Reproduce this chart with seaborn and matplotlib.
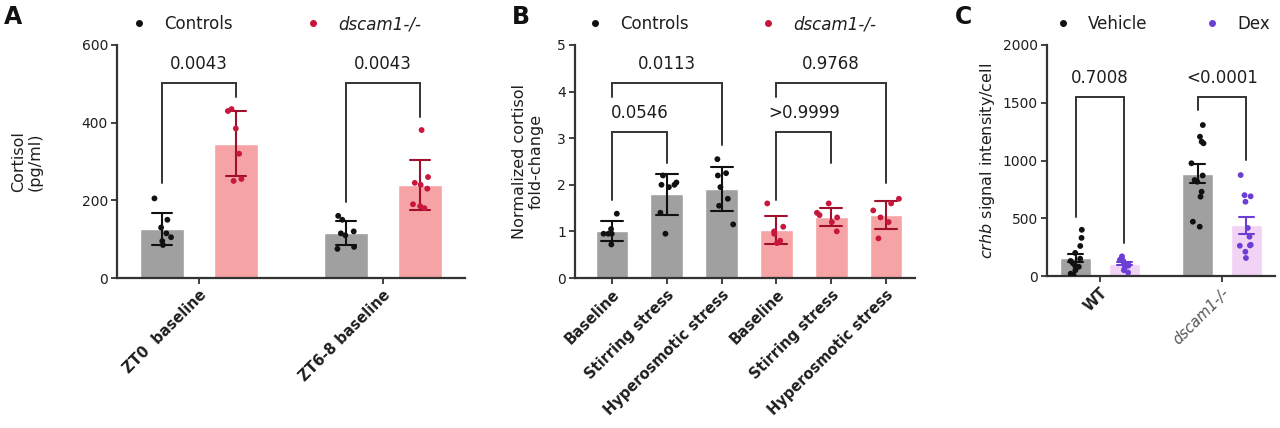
import numpy as np
import pandas as pd
import matplotlib
matplotlib.use("Agg")
import matplotlib.pyplot as plt
import matplotlib.colors as mcolors
import seaborn as sns
from matplotlib.lines import Line2D

sns.set_theme(style="ticks")
plt.rcParams["font.family"] = ["DejaVu Sans"]
np.random.seed(7)  # only for the horizontal jitter of the dots

# ---------------- data ----------------
# Panel A : cortisol (pg/ml)
a_groups = ["ZT0  baseline", "ZT6-8 baseline"]
a_genos = ["Controls", "dscam1-/-"]
a_ctrl_zt0 = [205, 150, 130, 115, 105, 85, 95]
a_mut_zt0 = [430, 435, 385, 320, 255, 250]
a_ctrl_zt6 = [160, 150, 120, 115, 110, 80, 75]
a_mut_zt6 = [381, 260, 245, 240, 230, 190, 185, 180]
a_pvals = ["0.0043", "0.0043"]
a_br_top = [502, 502]
a_br_left = [245, 196]
a_br_right = [466, 415]

# Panel B : normalized cortisol fold-change
b_conditions = ["Baseline", "Stirring stress", "Hyperosmotic stress"]
b_ctrl = [
    [1.38, 1.05, 0.95, 0.95, 0.95, 0.72],
    [2.2, 2.05, 2.0, 2.0, 1.95, 1.4, 0.95],
    [2.55, 2.25, 2.2, 1.95, 1.7, 1.55, 1.15],
]
b_mut = [
    [1.6, 1.1, 1.0, 0.95, 0.8, 0.75],
    [1.6, 1.4, 1.35, 1.3, 1.2, 1.0],
    [1.7, 1.6, 1.45, 1.3, 1.2, 0.85],
]
b_pvals = ["0.0546", "0.0113", ">0.9999", "0.9768"]
b_br_pairs = [(0, 1), (0, 2), (3, 4), (3, 5)]
b_br_top = [3.13, 4.18, 3.13, 4.18]
b_br_left = [1.67, 3.88, 1.67, 3.88]
b_br_right = [2.47, 2.85, 2.47, 2.04]

# Panel C : crhb signal intensity/cell
c_groups = ["WT", "dscam1-/-"]
c_treat = ["Vehicle", "Dex"]
c_veh_wt = [400, 330, 260, 200, 150, 130, 110, 90, 80, 50, 20, 10]
c_dex_wt = [170, 160, 140, 130, 120, 100, 90, 70, 50, 30]
c_veh_mut = [1307, 1206, 1163, 1149, 976, 870, 831, 816, 730, 687, 470, 427]
c_dex_mut = [874, 700, 690, 643, 416, 340, 270, 265, 262, 210, 156]
c_pvals = ["0.7008", "<0.0001"]
c_br_top = [1550, 1550]
c_br_left = [510, 1440]
c_br_right = [285, 1005]

# ---------------- styles ----------------
GRAY = "#a0a0a0"
PINK = "#f6a3a5"
RED = "#c8163c"
LAV = "#f2d3f6"
PURP = "#6b3fd3"
AXC = "#333333"
TXT = "#1e1e1e"

W, H = 1280, 428
fig = plt.figure(figsize=(W / 100, H / 100), dpi=100)


def px_axes(x0, x1, ytop, ybot):
    return fig.add_axes([x0 / W, 1 - ybot / H, (x1 - x0) / W, (ybot - ytop) / H])


def style_axes(ax):
    sns.despine(ax=ax)
    for s in ["left", "bottom"]:
        ax.spines[s].set_linewidth(1.6)
        ax.spines[s].set_color(AXC)
    ax.tick_params(axis="both", colors=AXC, width=1.3, length=4.5, labelsize=10,
                   labelcolor=TXT, pad=2)
    ax.set_xlabel("")


def recolor_err(ax, mapping):
    patches = list(ax.patches)
    for ln in ax.lines:
        xd = np.asarray(ln.get_xdata(), dtype=float)
        xm = np.nanmean(xd)
        p = min(patches, key=lambda q: abs(q.get_x() + q.get_width() / 2 - xm))
        fc = mcolors.to_hex(p.get_facecolor()).lower()
        if fc in mapping:
            ln.set_color(mapping[fc])


def bracket(ax, x0, x1, top, lb, rb, txt):
    ax.plot([x0, x0, x1, x1], [lb, top, top, rb], color="#333333", lw=1.4,
            solid_joinstyle="miter", clip_on=False)
    ax.text((x0 + x1) / 2, top + ax.get_ylim()[1] * 0.045, txt, ha="center",
            va="bottom", fontsize=12, color=TXT)


def legend(ax, labels, colors, anchor, spacing, italic_idx):
    handles = [Line2D([], [], marker="o", ls="", color=c, markersize=4) for c in colors]
    lg = ax.legend(handles, labels, ncol=2, frameon=False, loc="center left",
                   bbox_to_anchor=anchor, handletextpad=1.2, columnspacing=spacing,
                   fontsize=12, handlelength=0.6, borderaxespad=0)
    for i, t in enumerate(lg.get_texts()):
        t.set_color(TXT)
        if i in italic_idx:
            t.set_fontstyle("italic")


def xlabels(ax, labels):
    ax.set_xticks(range(len(labels)))
    ax.set_xticklabels(labels, rotation=45, ha="right", rotation_mode="anchor",
                       fontsize=10.5, fontweight="bold")


# ---------------- Panel A ----------------
rows = []
for g, vals in zip(a_groups, [a_ctrl_zt0, a_ctrl_zt6]):
    rows += [(g, a_genos[0], v) for v in vals]
for g, vals in zip(a_groups, [a_mut_zt0, a_mut_zt6]):
    rows += [(g, a_genos[1], v) for v in vals]
dfa = pd.DataFrame(rows, columns=["group", "geno", "val"])

axA = px_axes(117, 465, 45, 278)
sns.barplot(data=dfa, x="group", y="val", hue="geno", hue_order=a_genos,
            order=a_groups, palette=[GRAY, PINK], width=0.8, gap=0.4,
            errorbar="sd", capsize=0.22, err_kws={"color": "#111111", "linewidth": 1.5},
            ax=axA, legend=False, saturation=1)
recolor_err(axA, {GRAY: "#111111", PINK: "#a0102c"})
sns.stripplot(data=dfa, x="group", y="val", hue="geno", hue_order=a_genos,
              order=a_groups, palette=["#111111", RED], dodge=True, size=4.2,
              jitter=0.1, ax=axA, legend=False)
axA.set_xlim(-0.446, 1.446)
axA.set_ylim(0, 600)
axA.set_yticks([0, 200, 400, 600])
axA.set_ylabel("Cortisol\n(pg/ml)", fontsize=11.5, labelpad=28, color=TXT,
               linespacing=1.1)
style_axes(axA)
xlabels(axA, a_groups)
for i in range(2):
    bracket(axA, i - 0.2, i + 0.2, a_br_top[i], a_br_left[i], a_br_right[i], a_pvals[i])
legend(axA, a_genos, ["#111111", RED], (0.031, 1.09), 4.5, [1])

# ---------------- Panel B ----------------
rows = []
keys = []
for geno, series in zip(a_genos, [b_ctrl, b_mut]):
    for cond, vals in zip(b_conditions, series):
        k = geno + "|" + cond
        keys.append(k)
        rows += [(k, geno, v) for v in vals]
dfb = pd.DataFrame(rows, columns=["key", "geno", "val"])

axB = px_axes(575, 915, 45, 278)
sns.barplot(data=dfb, x="key", y="val", hue="geno", hue_order=a_genos,
            order=keys, palette=[GRAY, PINK], dodge=False, width=0.6,
            errorbar="sd", capsize=0.4, err_kws={"color": "#111111", "linewidth": 1.5},
            ax=axB, legend=False, saturation=1)
recolor_err(axB, {GRAY: "#111111", PINK: "#a0102c"})
sns.stripplot(data=dfb, x="key", y="val", hue="geno", hue_order=a_genos,
              order=keys, palette=["#111111", RED], dodge=False, size=4.2,
              jitter=0.26, ax=axB, legend=False)
axB.set_xlim(-0.675, 5.53)
axB.set_ylim(0, 5)
axB.set_yticks(range(6))
axB.set_ylabel("Normalized cortisol\nfold-change", fontsize=11.5, labelpad=10,
               color=TXT, linespacing=1.1)
style_axes(axB)
xlabels(axB, b_conditions * 2)
for (i, j), t, lb, rb, p in zip(b_br_pairs, b_br_top, b_br_left, b_br_right, b_pvals):
    bracket(axB, i, j, t, lb, rb, p)
legend(axB, a_genos, ["#111111", RED], (0.024, 1.09), 4.5, [1])

# ---------------- Panel C ----------------
rows = []
for g, vals in zip(c_groups, [c_veh_wt, c_veh_mut]):
    rows += [(g, c_treat[0], v) for v in vals]
for g, vals in zip(c_groups, [c_dex_wt, c_dex_mut]):
    rows += [(g, c_treat[1], v) for v in vals]
dfc = pd.DataFrame(rows, columns=["group", "treat", "val"])

axC = px_axes(1047, 1275, 45, 276)
sns.barplot(data=dfc, x="group", y="val", hue="treat", hue_order=c_treat,
            order=c_groups, palette=[GRAY, LAV], width=0.8, gap=0.36,
            errorbar="se", capsize=0.25, err_kws={"color": "#111111", "linewidth": 1.5},
            ax=axC, legend=False, saturation=1)
recolor_err(axC, {GRAY: "#111111", LAV: PURP})
sns.stripplot(data=dfc, x="group", y="val", hue="treat", hue_order=c_treat,
              order=c_groups, palette=["#111111", PURP], dodge=True, size=4.2,
              jitter=0.11, ax=axC, legend=False)
axC.set_xlim(-0.434, 1.434)
axC.set_ylim(0, 2000)
axC.set_yticks([0, 500, 1000, 1500, 2000])
axC.set_ylabel("$\\it{crhb}$ signal intensity/cell", fontsize=11.5, labelpad=4,
               color=TXT)
style_axes(axC)
xlabels(axC, c_groups)
lab = axC.get_xticklabels()[1]
lab.set_fontstyle("italic")
lab.set_fontweight("normal")
lab.set_color("#555555")
for i in range(2):
    bracket(axC, i - 0.2, i + 0.2, c_br_top[i], c_br_left[i], c_br_right[i], c_pvals[i])
legend(axC, c_treat, ["#111111", PURP], (0.018, 1.09), 3.6, [])

# panel letters
for x, lab in [(4, "A"), (512, "B"), (955, "C")]:
    fig.text(x / W, 1 - 17 / H, lab, fontsize=17, fontweight="bold", va="center",
             color="#111111")

fig.savefig("out.png", dpi=100)
